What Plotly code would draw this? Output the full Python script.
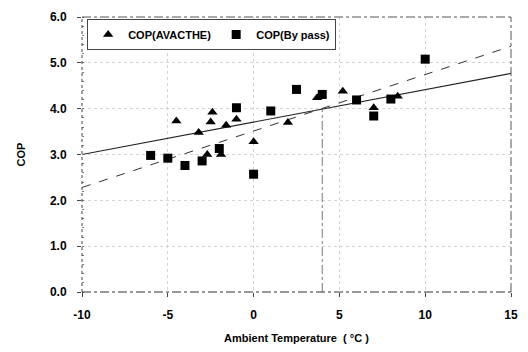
import plotly.graph_objects as go

# Data
avacthe_x = [-4.5, -3.2, -2.5, -2.4, -2.7, -1.9, -1.6, -1.0, 0.0, 2.0, 3.7, 5.2, 7.0, 8.4]
avacthe_y = [3.73, 3.48, 3.71, 3.92, 3.00, 3.00, 3.64, 3.77, 3.28, 3.70, 4.24, 4.38, 4.02, 4.27]

bypass_x = [-6, -5, -4, -3, -2, -1, 0, 1, 2.5, 4, 6, 7, 8, 10]
bypass_y = [2.98, 2.92, 2.76, 2.86, 3.13, 4.02, 2.57, 3.95, 4.42, 4.31, 4.19, 3.84, 4.21, 5.08]

# Trend lines (end points)
trend_x = [-10, 15]
trend_avacthe = [3.00, 4.77]
trend_bypass = [2.28, 5.36]

# Vertical marker line
marker_x = [4, 4]
marker_y = [0, 4.0]

x_ticks = [-10, -5, 0, 5, 10, 15]
x_labels = ["-10", "-5", "0", "5", "10", "15"]
y_ticks = [0, 1, 2, 3, 4, 5, 6]
y_labels = ["0.0", "1.0", "2.0", "3.0", "4.0", "5.0", "6.0"]

FONT = "Liberation Sans, Arial, sans-serif"

fig = go.Figure()

fig.add_trace(go.Scatter(x=trend_x, y=trend_avacthe, mode="lines",
                         line=dict(color="#222", width=1.1), showlegend=False, hoverinfo="skip"))
fig.add_trace(go.Scatter(x=trend_x, y=trend_bypass, mode="lines",
                         line=dict(color="#333", width=1, dash="dash"), showlegend=False, hoverinfo="skip"))
fig.add_trace(go.Scatter(x=marker_x, y=marker_y, mode="lines",
                         line=dict(color="#555", width=0.8, dash="dashdot"), showlegend=False, hoverinfo="skip"))

fig.add_trace(go.Scatter(x=avacthe_x, y=avacthe_y, mode="markers", name="COP(AVACTHE)",
                         marker=dict(symbol="triangle-up", size=9, color="black")))
fig.add_trace(go.Scatter(x=bypass_x, y=bypass_y, mode="markers", name="COP(By pass)",
                         marker=dict(symbol="square", size=9, color="black")))

# frame
fig.add_shape(type="line", xref="paper", yref="paper", x0=0, x1=0, y0=0, y1=1,
              line=dict(color="#444", width=1, dash="dot"))
fig.add_shape(type="line", xref="paper", yref="paper", x0=1, x1=1, y0=0, y1=1,
              line=dict(color="#555", width=1, dash="dashdot"))
fig.add_shape(type="line", xref="paper", yref="paper", x0=0, x1=1, y0=1, y1=1,
              line=dict(color="#555", width=1, dash="dashdot"))
fig.add_shape(type="line", xref="paper", yref="paper", x0=0, x1=1, y0=0, y1=0,
              line=dict(color="#333", width=1, dash="dashdot"))

fig.update_layout(
    width=528, height=352,
    margin=dict(l=82, r=16, t=10, b=58),
    paper_bgcolor="white", plot_bgcolor="white",
    font=dict(family=FONT, color="black", size=11),
    legend=dict(orientation="h", x=0.012, y=0.993, xanchor="left", yanchor="top",
                bordercolor="#444", borderwidth=1, bgcolor="white",
                font=dict(family=FONT, size=11, weight="bold"),
                itemwidth=30, tracegroupgap=0),
    xaxis=dict(range=[-10, 15], tickvals=x_ticks, ticktext=x_labels, showgrid=True,
               gridcolor="#d4d4d4", griddash="dot", gridwidth=0.5, zeroline=False,
               ticks="outside", ticklen=4, tickcolor="#444", ticklabelstandoff=8,
               tickfont=dict(family=FONT, size=12, weight="bold"),
               title=dict(text="Ambient Temperature  ( °C )", standoff=12,
                          font=dict(family=FONT, size=11, weight="bold"))),
    yaxis=dict(range=[0, 6], tickvals=y_ticks, ticktext=y_labels, showgrid=True,
               gridcolor="#d4d4d4", griddash="dot", gridwidth=0.5, zeroline=False,
               ticks="outside", ticklen=4, tickcolor="#444", ticklabelstandoff=8,
               tickfont=dict(family=FONT, size=12, weight="bold"),
               minor=dict(ticks="inside", ticklen=2, dtick=0.2, tickcolor="#777", showgrid=False),
               title=dict(text="COP", standoff=22,
                          font=dict(family=FONT, size=11, weight="bold"))),
)

fig.write_html("out.html")
